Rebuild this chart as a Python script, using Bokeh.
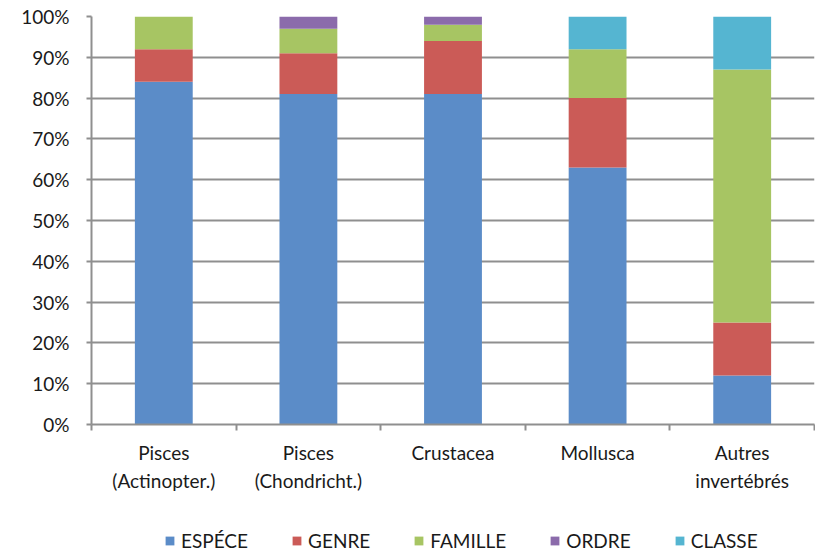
from bokeh.plotting import figure
from bokeh.layouts import column
from bokeh.models import (Range1d, FixedTicker, Legend, LegendItem,
                          PrintfTickFormatter, ColumnDataSource)
from bokeh.embed import file_html
from bokeh.resources import INLINE

# Share of identifications reached at each taxonomic level, per group (%)
groups = ["Pisces\n(Actinopter.)", "Pisces\n(Chondricht.)", "Crustacea",
          "Mollusca", "Autres\ninvertébrés"]
levels = ["ESPÉCE", "GENRE", "FAMILLE", "ORDRE", "CLASSE"]
espece = [84, 81, 81, 63, 12]
genre = [8, 10, 13, 17, 13]
famille = [8, 6, 4, 12, 62]
ordre = [0, 3, 2, 0, 0]
classe = [0, 0, 0, 8, 13]
y_ticks = [0, 10, 20, 30, 40, 50, 60, 70, 80, 90, 100]

colors = ["#5B8CC8", "#CB5B57", "#A7C563", "#8B6BAB", "#55B5D1"]
FONT = "Lato"
TEXT = "#1a1a1a"
GREY = "#8f8f8f"

xs = list(range(1, len(groups) + 1))
source = ColumnDataSource(dict(x=xs, **{
    "ESPÉCE": espece, "GENRE": genre, "FAMILLE": famille,
    "ORDRE": ordre, "CLASSE": classe}))

p = figure(width=815, height=505, output_backend="svg", toolbar_location=None,
           x_range=Range1d(0.5, len(groups) + 0.5), y_range=Range1d(0, 100),
           min_border_left=91, min_border_right=1, min_border_top=16,
           min_border_bottom=81)
p.outline_line_color = None
p.background_fill_color = "white"
p.border_fill_color = "white"

renderers = p.vbar_stack(levels, x="x", width=0.4, source=source,
                         color=colors, line_color=None)

# Vertical axis: percentages
p.yaxis.ticker = FixedTicker(ticks=y_ticks)
p.yaxis.formatter = PrintfTickFormatter(format="%d%%")
p.yaxis.axis_line_color = GREY
p.yaxis.axis_line_width = 2
p.yaxis.major_tick_line_color = GREY
p.yaxis.major_tick_line_width = 2
p.yaxis.major_tick_out = 5
p.yaxis.major_tick_in = 0
p.yaxis.minor_tick_line_color = None
p.yaxis.major_label_standoff = 17
p.yaxis.major_label_text_font = FONT
p.yaxis.major_label_text_font_size = "19px"
p.yaxis.major_label_text_color = TEXT

# Horizontal axis: group names centred, ticks on the boundaries
p.xaxis.ticker = FixedTicker(ticks=xs,
                             minor_ticks=[x + 0.5 for x in range(0, len(groups) + 1)])
p.xaxis.major_label_overrides = {x: g for x, g in zip(xs, groups)}
p.xaxis.axis_line_color = GREY
p.xaxis.axis_line_width = 2
p.xaxis.major_tick_line_color = None
p.xaxis.major_tick_out = 0
p.xaxis.major_tick_in = 0
p.xaxis.minor_tick_line_color = GREY
p.xaxis.minor_tick_line_width = 2
p.xaxis.minor_tick_out = 6
p.xaxis.minor_tick_in = 0
p.xaxis.major_label_standoff = 10
p.xaxis.major_label_text_font = FONT
p.xaxis.major_label_text_font_size = "19px"
p.xaxis.major_label_text_color = TEXT
p.xaxis.major_label_text_line_height = 1.25

p.xgrid.grid_line_color = None
p.ygrid.grid_line_color = GREY
p.ygrid.grid_line_width = 2

# Legend strip underneath the chart (frame aligned with the chart's frame);
# zero-size bars only serve as colour swatches for the legend entries
leg = figure(width=815, height=47, output_backend="svg", toolbar_location=None,
             x_range=Range1d(0, 1), y_range=Range1d(0, 1),
             min_border=0, outline_line_color=None)
leg.axis.visible = False
leg.grid.visible = False
swatches = [leg.vbar(x=[0], top=[0], width=0, color=c, line_color=None)
            for c in colors]
legend = Legend(items=[LegendItem(label=lv, renderers=[r])
                       for lv, r in zip(levels, swatches)],
                orientation="horizontal", location=(73, 0),
                glyph_width=11, glyph_height=11, label_standoff=6,
                spacing=43, padding=0, margin=0,
                border_line_color=None, background_fill_alpha=0,
                label_text_font=FONT, label_text_font_size="19px",
                label_text_color=TEXT)
leg.add_layout(legend, "center")

open("out.html", "w").write(file_html(column(p, leg, spacing=0), INLINE))
